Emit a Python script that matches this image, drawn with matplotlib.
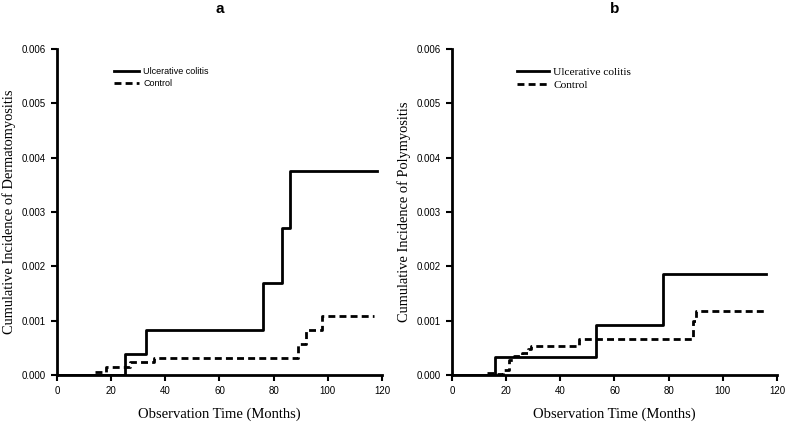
import matplotlib
matplotlib.use("Agg")
import matplotlib.pyplot as plt

# panel a - dermatomyositis
a_uc_t = [0, 25, 33, 76, 83, 86, 118]
a_uc_y = [0, 0.00038, 0.00082, 0.0017, 0.0027, 0.00376, 0.00376]
a_ct_t = [14, 18, 27, 36, 89, 92, 98, 117]
a_ct_y = [0.00006, 0.00015, 0.00023, 0.00032, 0.00057, 0.00082, 0.00108, 0.00108]

# panel b - polymyositis
b_uc_t = [0, 16, 53, 78, 116]
b_uc_y = [0, 0.00033, 0.00092, 0.00186, 0.00186]
b_ct_t = [13, 16, 19, 21, 23, 26, 28, 29, 47, 89, 90, 116]
b_ct_y = [0.00004, 0.00002, 0.0001, 0.00028, 0.00035, 0.0004, 0.00048, 0.00054,
          0.00066, 0.001, 0.00118, 0.00118]

yticks = [0.000, 0.001, 0.002, 0.003, 0.004, 0.005, 0.006]
xticks = [0, 20, 40, 60, 80, 100, 120]

fig = plt.figure(figsize=(7.87, 4.22), dpi=100)
ax1 = fig.add_axes([0.0724, 0.1114, 0.413, 0.7725])
ax2 = fig.add_axes([0.5743, 0.1114, 0.413, 0.7725])

panels = [
    (ax1, a_uc_t, a_uc_y, a_ct_t, a_ct_y, "a", "Cumulative Incidence of Dermatomyositis",
     "Liberation Sans", 6.5, (0.165, 0.955), 0.35),
    (ax2, b_uc_t, b_uc_y, b_ct_t, b_ct_y, "b", "Cumulative Incidence of Polymyositis",
     "Liberation Serif", 8.2, (0.185, 0.96), 0.3),
]

for ax, ut, uy, ct, cy, title, ylab, legfont, legsize, legpos, legsp in panels:
    ax.step(ut, uy, where="post", color="black", lw=2, label="Ulcerative colitis")
    ax.step(ct, cy, where="post", color="black", lw=2, ls=(0, (2.5, 1.5)), label="Control")
    ax.set_xlim(0, 120)
    ax.set_ylim(0, 0.006)
    ax.set_xticks(xticks)
    ax.set_yticks(yticks)
    ax.set_yticklabels(["%.3f" % v for v in yticks])
    for s in ["top", "right"]:
        ax.spines[s].set_visible(False)
    for s in ["left", "bottom"]:
        ax.spines[s].set_linewidth(2)
    ax.tick_params(width=1.5, length=4, labelsize=7, colors="black", pad=4)
    for lab in ax.get_xticklabels() + ax.get_yticklabels():
        lab.set_fontfamily("Liberation Sans")
    ax.set_ylabel(ylab, family="Liberation Serif", fontsize=10.4, labelpad=4)
    ax.set_xlabel("Observation Time (Months)", family="Liberation Serif", fontsize=10.5, labelpad=8)
    ax.legend(loc="upper left", bbox_to_anchor=legpos, frameon=False,
              prop={"family": legfont, "size": legsize}, handlelength=2.8,
              handletextpad=0.4, labelspacing=legsp, borderaxespad=0)
    bb = ax.get_position()
    fig.text((bb.x0 + bb.x1) / 2, 1 - 9 / 422, title, ha="center", va="center",
             family="Liberation Sans", fontsize=11, fontweight="bold")

fig.savefig("out.png", dpi=100)
